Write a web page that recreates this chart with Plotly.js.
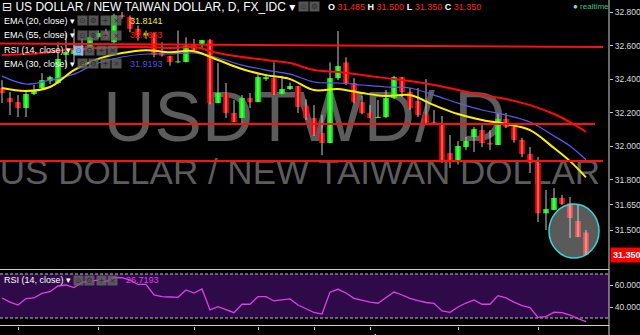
<!DOCTYPE html>
<html><head><meta charset="utf-8">
<script src="https://cdn.plot.ly/plotly-3.0.1.min.js"></script>
<style>html,body{margin:0;padding:0;background:#000;overflow:hidden}#chart{width:640px;height:335px}</style>
</head><body><div id="chart"></div>
<script>
// ---- data ----
const dates = ['2016-04-28','2016-04-29','2016-05-02','2016-05-03','2016-05-04','2016-05-05','2016-05-06','2016-05-09','2016-05-10','2016-05-11','2016-05-12','2016-05-13','2016-05-16','2016-05-17','2016-05-18','2016-05-19','2016-05-20','2016-05-23','2016-05-24','2016-05-25','2016-05-26','2016-05-27','2016-05-30','2016-05-31','2016-06-01','2016-06-02','2016-06-03','2016-06-06','2016-06-07','2016-06-08','2016-06-09','2016-06-10','2016-06-13','2016-06-14','2016-06-15','2016-06-16','2016-06-17','2016-06-20','2016-06-21','2016-06-22','2016-06-23','2016-06-24','2016-06-27','2016-06-28','2016-06-29','2016-06-30','2016-07-01','2016-07-04','2016-07-05','2016-07-06','2016-07-07','2016-07-08','2016-07-11','2016-07-12','2016-07-13','2016-07-14','2016-07-15','2016-07-18','2016-07-19','2016-07-20','2016-07-21','2016-07-22','2016-07-25','2016-07-26','2016-07-27','2016-07-28','2016-07-29','2016-08-01','2016-08-02','2016-08-03','2016-08-04','2016-08-05','2016-08-08','2016-08-09'];
const openP  = [32.347,32.287,32.263,32.228,32.311,32.347,32.388,32.377,32.544,32.55,32.58,32.573,32.65,32.68,32.62,32.782,32.77,32.70,32.66,32.675,32.556,32.538,32.500,32.502,32.61,32.61,32.633,32.257,32.317,32.198,32.168,32.287,32.263,32.400,32.406,32.311,32.341,32.359,32.24,32.168,32.079,32.019,32.406,32.50,32.377,32.263,32.198,32.168,32.174,32.287,32.412,32.323,32.269,32.192,32.144,32.126,31.959,31.905,31.995,32.055,32.096,32.02,32.007,32.162,32.114,32.037,31.953,31.90,31.60,31.62,31.691,31.66,31.554,31.485];
const highP  = [32.394,32.323,32.305,32.323,32.365,32.436,32.420,32.620,32.675,32.70,32.64,32.66,32.69,32.70,32.79,32.80,32.78,32.72,32.69,32.68,32.62,32.54,32.69,32.65,32.64,32.633,32.64,32.496,32.377,32.275,32.305,32.317,32.436,32.43,32.50,32.42,32.38,32.36,32.28,32.245,32.186,32.50,32.687,32.53,32.406,32.30,32.245,32.275,32.335,32.42,32.412,32.347,32.347,32.40,32.216,32.18,32.067,32.03,32.055,32.114,32.126,32.096,32.198,32.198,32.13,32.05,31.995,31.935,31.739,31.75,31.71,31.697,31.65,31.500];
const lowP   = [32.257,32.186,32.174,32.174,32.305,32.347,32.370,32.370,32.470,32.50,32.54,32.55,32.64,32.64,32.61,32.76,32.68,32.63,32.64,32.53,32.535,32.48,32.495,32.50,32.56,32.585,32.25,32.257,32.168,32.144,32.138,32.228,32.263,32.39,32.305,32.311,32.335,32.198,32.156,32.061,31.947,32.019,32.394,32.365,32.257,32.19,32.168,32.168,32.168,32.28,32.293,32.216,32.174,32.138,32.132,31.90,31.87,31.89,31.977,31.965,31.995,31.977,32.007,32.108,32.02,31.935,31.84,31.548,31.50,31.62,31.65,31.453,31.458,31.350];
const closeP = [32.317,32.263,32.228,32.311,32.329,32.394,32.412,32.52,32.562,32.58,32.57,32.65,32.675,32.65,32.78,32.77,32.70,32.66,32.675,32.544,32.54,32.502,32.505,32.60,32.573,32.633,32.257,32.317,32.198,32.144,32.287,32.263,32.412,32.412,32.311,32.341,32.359,32.234,32.168,32.067,32.019,32.406,32.478,32.377,32.263,32.198,32.168,32.174,32.287,32.412,32.323,32.228,32.186,32.138,32.132,31.917,31.905,32.001,32.031,32.102,32.019,32.01,32.162,32.114,32.037,31.953,31.90,31.60,31.625,31.691,31.655,31.572,31.458,31.350];

const emaDates = ['2016-04-28','2016-05-03','2016-05-06','2016-05-11','2016-05-16','2016-05-19','2016-05-24','2016-05-27','2016-06-01','2016-06-06','2016-06-09','2016-06-14','2016-06-17','2016-06-22','2016-06-27','2016-06-30','2016-07-05','2016-07-08','2016-07-13','2016-07-18','2016-07-21','2016-07-26','2016-07-29','2016-08-03','2016-08-05','2016-08-09'];
const ema20 = [32.347,32.329,32.353,32.454,32.520,32.556,32.573,32.561,32.567,32.514,32.460,32.424,32.400,32.335,32.341,32.317,32.299,32.305,32.245,32.192,32.156,32.132,32.096,31.989,31.911,31.8141];
const ema30 = [32.418,32.371,32.394,32.430,32.496,32.532,32.550,32.550,32.556,32.526,32.484,32.454,32.430,32.383,32.377,32.365,32.353,32.347,32.305,32.257,32.216,32.186,32.144,32.061,32.001,31.9193];
const ema55 = [32.544,32.550,32.561,32.579,32.585,32.591,32.591,32.585,32.591,32.556,32.532,32.514,32.496,32.454,32.442,32.424,32.406,32.389,32.365,32.335,32.305,32.281,32.245,32.192,32.144,32.0863];
const rsi14 = [48.2,44.5,41.8,47.7,48.2,52.3,53.9,59.1,60.0,57.7,62.3,63.6,64.5,63.2,66.8,66.6,64.5,60.5,60.6,50.9,49.5,49.1,48.8,55.5,52.7,56.4,37.3,40.3,37.7,34.8,42.5,42.5,49.4,49.4,45.5,46.4,47.3,41.8,38.2,35.0,33.6,53.4,56.1,52.7,47.9,45.9,44.5,43.4,48.2,53.6,50.9,47.9,45.9,44.1,43.4,36.4,35.2,40.0,43.6,46.4,42.5,42.5,50.3,48.2,44.5,41.2,39.4,30.6,31.2,35.2,34.8,32.7,29.5,26.7193];

const tickDates  = ['2016-05-02','2016-05-16','2016-06-01','2016-06-13','2016-06-22','2016-07-01','2016-07-18','2016-08-01'];
const tickLabels = ['May','16','Jun','13','22','Jul','18','Aug'];
const priceTicks = [32.8,32.6,32.4,32.2,32.0,31.8,31.65,31.5];
const rsiTicks = [60,40];

// ---- build traces ----
const FONT = 'Liberation Sans, Arial, DejaVu Sans, sans-serif';
const wx = [], wy = [];
dates.forEach((d,i)=>{ wx.push(d,d,d); wy.push(lowP[i],highP[i],null); });
const bodyBase = openP.map((o,i)=>Math.min(o,closeP[i]));
const bodyH = openP.map((o,i)=>Math.max(Math.abs(closeP[i]-o),0.006));
const bodyCol = openP.map((o,i)=> closeP[i] >= o ? '#00ff00' : '#ff0000');

const traces = [
  {type:'scatter',mode:'lines',x:wx,y:wy,xaxis:'x',yaxis:'y',line:{color:'#c8c8c8',width:1},connectgaps:false,hoverinfo:'skip'},
  {type:'bar',x:dates,y:bodyH,base:bodyBase,width:0.7,xaxis:'x',yaxis:'y',marker:{color:bodyCol,line:{width:0}},hoverinfo:'skip'},
  {type:'scatter',mode:'lines',x:emaDates,y:ema55,xaxis:'x',yaxis:'y',line:{color:'#ff0a0a',width:2,shape:'spline'}},
  {type:'scatter',mode:'lines',x:emaDates,y:ema30,xaxis:'x',yaxis:'y',line:{color:'#5a5af0',width:1.2,shape:'spline'}},
  {type:'scatter',mode:'lines',x:emaDates,y:ema20,xaxis:'x',yaxis:'y',line:{color:'#ffee00',width:2,shape:'spline'}},
  {type:'scatter',mode:'lines',x:dates,y:rsi14,xaxis:'x',yaxis:'y2',line:{color:'#e040e8',width:1.3}}
];

// ---- layout helpers (pixel -> paper) ----
const PW = 609, PH = 326;
const px = x => x/PW, py = y => 1 - y/PH;
const ann = [];
function txt(x,y,text,size,color,extra){ ann.push(Object.assign({xref:'paper',yref:'paper',x:px(x),y:py(y),xanchor:'left',yanchor:'middle',showarrow:false,text:text,font:{family:FONT,size:size,color:color}},extra||{})); }
function icons(x0,y,hl){
  const g=['⊙','⚙','+','×'];
  g.forEach((s,j)=>{ ann.push({xref:'paper',yref:'paper',x:px(x0+j*11.5),y:py(y),xanchor:'center',yanchor:'middle',showarrow:false,text:s,width:9,height:9,borderpad:0,
    bgcolor:(hl&&j===0)?'rgba(150,200,240,0.9)':'rgba(105,105,105,0.8)',font:{family:'DejaVu Sans',size:7.5,color:(hl&&j===0)?'#1070c0':'#2a2a2a'}}); });
}
const last = closeP.length-1;
txt(0,7,'⊟ US DOLLAR / NEW TAIWAN DOLLAR, D, FX_IDC ▾',12,'#ffffff');
icons(303,7,false); ann.pop(); ann.pop();
const red = s=>'<span style="color:#ff2020">'+s+'</span>';
txt(326,7,'<b>O</b> '+red(openP[last].toFixed(3))+' <b>H</b> '+red(highP[last].toFixed(3))+' <b>L</b> '+red(lowP[last].toFixed(3))+' <b>C</b> '+red(closeP[last].toFixed(3)),9,'#ffffff');
txt(571,6,'<span style="color:#70e0c0">●</span> realtime',8,'#3cc090');
txt(2,21,'EMA (20, close) ▾',9,'#ffffff'); icons(82,21,false); txt(128,21,ema20[ema20.length-1].toFixed(4),9,'#ffee00');
txt(2,35,'EMA (55, close) ▾',9,'#ffffff'); icons(82,35,false); txt(128,35,ema55[ema55.length-1].toFixed(4),9,'#ff1010');
txt(2,50,'RSI (14, close) ▾',9,'#ffffff'); icons(78,50,true);
txt(2,64,'EMA (30, close) ▾',9,'#ffffff'); icons(82,64,false); txt(128,64,ema30[ema30.length-1].toFixed(4),9,'#5050e0');
txt(2,280,'RSI (14, close) ▾',9,'#ffffff'); icons(78,280,false); txt(124,280,rsi14[last].toFixed(4),9,'#e040e8');
ann.push({xref:'paper',yref:'y',x:1,y:closeP[last],xanchor:'left',yanchor:'middle',xshift:1,showarrow:false,text:'<b>'+closeP[last].toFixed(3)+'</b>',bgcolor:'#ff0000',borderpad:2,font:{family:FONT,size:9,color:'#ffffff'}});

const shapes = [
  {type:'rect',xref:'paper',yref:'paper',x0:0,x1:1,y0:py(75),y1:py(143),layer:'below',line:{width:0},fillcolor:'rgba(0,0,0,0)',
   label:{text:'USDTWD/ D',textposition:'middle center',font:{family:FONT,size:71,color:'#5c5c5c'}}},
  {type:'rect',xref:'paper',yref:'paper',x0:-0.01,x1:0.995,y0:py(148),y1:py(188),layer:'below',line:{width:0},fillcolor:'rgba(0,0,0,0)',
   label:{text:'US DOLLAR / NEW TAIWAN DOLLAR',textposition:'middle center',font:{family:FONT,size:35,color:'#5c5c5c'}}},
  {type:'rect',xref:'paper',yref:'y2',x0:0,x1:1,y0:30,y1:70,layer:'below',line:{width:0},fillcolor:'#2e0a48'},
  {type:'line',xref:'paper',yref:'y2',x0:0,x1:1,y0:70,y1:70,layer:'below',line:{color:'#c0c0c0',width:1,dash:'3px,2px'}},
  {type:'line',xref:'paper',yref:'y2',x0:0,x1:1,y0:30,y1:30,layer:'below',line:{color:'#c0c0c0',width:1,dash:'3px,2px'}},
  {type:'line',xref:'paper',yref:'y',x0:0,x1:px(603),y0:32.612,y1:32.591,layer:'above',line:{color:'#ff1010',width:2}},
  {type:'line',xref:'paper',yref:'y',x0:0,x1:px(595),y0:32.132,y1:32.132,layer:'above',line:{color:'#ff1010',width:2}},
  {type:'line',xref:'paper',yref:'y',x0:0,x1:px(603),y0:31.911,y1:31.911,layer:'above',line:{color:'#ff1010',width:2}},
  {type:'circle',xref:'x',yref:'y',x0:68.375,x1:74.625,y0:31.333,y1:31.655,layer:'above',line:{color:'#35d8d8',width:1.5},fillcolor:'rgba(215,215,215,0.42)'},
  {type:'line',xref:'paper',yref:'paper',x0:0,x1:1,y0:py(269.5),y1:py(269.5),line:{color:'#d0d0d0',width:1}},
  {type:'line',xref:'paper',yref:'paper',x0:0,x1:1,y0:py(325.5),y1:py(325.5),line:{color:'#d0d0d0',width:1}},
  {type:'line',xref:'paper',yref:'paper',x0:1,x1:1,y0:-0.03,y1:1,line:{color:'#d0d0d0',width:1}}
];

const layout = {
  width:640,height:335,margin:{l:0,r:31,t:0,b:9,pad:0},
  paper_bgcolor:'#000',plot_bgcolor:'#000',showlegend:false,barmode:'overlay',
  font:{family:FONT,color:'#dddddd'},
  xaxis:{type:'category',categoryorder:'array',categoryarray:dates,range:[-0.25,75.875],anchor:'y2',showgrid:false,zeroline:false,showline:false,
    tickmode:'array',tickvals:tickDates,ticktext:tickLabels,ticks:'outside',ticklen:3,tickcolor:'#cccccc',tickfont:{family:FONT,size:9,color:'#e0e0e0',weight:'bold'}},
  yaxis:{domain:[58/326,1],range:[31.2735,32.872],side:'right',anchor:'x',showgrid:false,zeroline:false,showline:false,
    tickmode:'array',tickvals:priceTicks,ticktext:priceTicks.map(v=>v.toFixed(3)),ticks:'outside',ticklen:3,tickcolor:'#cccccc',tickfont:{family:FONT,size:8.5,color:'#dddddd'}},
  yaxis2:{domain:[0,56/326],range:[22.73,73.64],side:'right',anchor:'x',showgrid:false,zeroline:false,showline:false,
    tickmode:'array',tickvals:rsiTicks,ticktext:rsiTicks.map(v=>v.toFixed(4)),ticks:'outside',ticklen:3,tickcolor:'#cccccc',tickfont:{family:FONT,size:8.5,color:'#dddddd'}},
  shapes:shapes,annotations:ann
};
Plotly.newPlot('chart',traces,layout,{staticPlot:true,displayModeBar:false});
</script></body></html>
